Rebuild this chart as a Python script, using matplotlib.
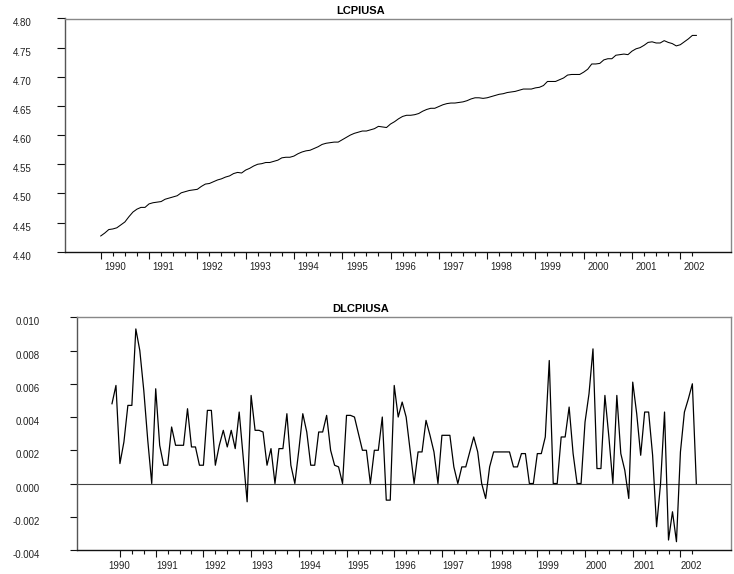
import numpy as np
import matplotlib.pyplot as plt

plt.rcParams['font.family'] = ['Liberation Sans', 'DejaVu Sans']
plt.rcParams['axes.unicode_minus'] = False

# log of US consumer prices, monthly 1990:01 - 2002:05
lcpiusa = [
    4.427, 4.432, 4.438, 4.439, 4.441, 4.446, 4.451, 4.460, 4.468, 4.473, 4.476, 4.476,
    4.482, 4.484, 4.485, 4.486, 4.490, 4.492, 4.494, 4.496, 4.501, 4.503, 4.505, 4.506,
    4.507, 4.512, 4.516, 4.517, 4.520, 4.523, 4.525, 4.528, 4.530, 4.534, 4.536, 4.535,
    4.540, 4.543, 4.547, 4.550, 4.551, 4.553, 4.553, 4.555, 4.557, 4.561, 4.562, 4.562,
    4.564, 4.568, 4.571, 4.573, 4.574, 4.577, 4.580, 4.584, 4.586, 4.587, 4.588, 4.588,
    4.592, 4.596, 4.600, 4.603, 4.605, 4.607, 4.607, 4.609, 4.611, 4.615, 4.614, 4.613,
    4.619, 4.623, 4.628, 4.632, 4.634, 4.634, 4.635, 4.637, 4.641, 4.644, 4.646, 4.646,
    4.649, 4.652, 4.654, 4.655, 4.655, 4.656, 4.657, 4.659, 4.662, 4.664, 4.664, 4.663,
    4.664, 4.666, 4.668, 4.670, 4.671, 4.673, 4.674, 4.675, 4.677, 4.679, 4.679, 4.679,
    4.681, 4.682, 4.685, 4.692, 4.692, 4.692, 4.695, 4.698, 4.703, 4.704, 4.704, 4.704,
    4.708, 4.713, 4.722, 4.722, 4.723, 4.729, 4.731, 4.731, 4.737, 4.738, 4.739, 4.738,
    4.744, 4.748, 4.750, 4.754, 4.759, 4.760, 4.758, 4.758, 4.762, 4.759, 4.757, 4.753,
    4.755, 4.760, 4.765, 4.771, 4.771,
]

# monthly change of the log, 1990:02 - 2002:05
dlcpiusa = [
    0.0048, 0.0059, 0.0012, 0.0025, 0.0047, 0.0047, 0.0093, 0.0080, 0.0056, 0.0026, 0.0000,
    0.0057, 0.0023, 0.0011, 0.0011, 0.0034, 0.0023, 0.0023, 0.0023, 0.0045, 0.0022, 0.0022, 0.0011,
    0.0011, 0.0044, 0.0044, 0.0011, 0.0023, 0.0032, 0.0022, 0.0032, 0.0021, 0.0043, 0.0016, -0.0011,
    0.0053, 0.0032, 0.0032, 0.0031, 0.0011, 0.0021, 0.0000, 0.0021, 0.0021, 0.0042, 0.0011, 0.0000,
    0.0020, 0.0042, 0.0031, 0.0011, 0.0011, 0.0031, 0.0031, 0.0041, 0.0020, 0.0011, 0.0010, 0.0000,
    0.0041, 0.0041, 0.0040, 0.0030, 0.0020, 0.0020, 0.0000, 0.0020, 0.0020, 0.0040, -0.0010, -0.0010,
    0.0059, 0.0040, 0.0049, 0.0040, 0.0020, 0.0000, 0.0019, 0.0019, 0.0038, 0.0029, 0.0019, 0.0000,
    0.0029, 0.0029, 0.0029, 0.0010, 0.0000, 0.0010, 0.0010, 0.0019, 0.0028, 0.0019, 0.0000, -0.0009,
    0.0010, 0.0019, 0.0019, 0.0019, 0.0019, 0.0019, 0.0010, 0.0010, 0.0018, 0.0018, 0.0000, 0.0000,
    0.0018, 0.0018, 0.0028, 0.0074, 0.0000, 0.0000, 0.0028, 0.0028, 0.0046, 0.0018, 0.0000, 0.0000,
    0.0037, 0.0054, 0.0081, 0.0009, 0.0009, 0.0053, 0.0028, 0.0000, 0.0053, 0.0018, 0.0008, -0.0009,
    0.0061, 0.0042, 0.0017, 0.0043, 0.0043, 0.0017, -0.0026, 0.0000, 0.0043, -0.0034, -0.0017, -0.0035,
    0.0019, 0.0043, 0.0051, 0.0060, 0.0000,
]

years = list(range(1990, 2003))
lcpi_ticks = [4.40, 4.45, 4.50, 4.55, 4.60, 4.65, 4.70, 4.75, 4.80]
lcpi_labels = ['4.40', '4.45', '4.50', '4.55', '4.60', '4.65', '4.70', '4.75', '4.80']
dlcpi_ticks = [-0.004, -0.002, 0.0, 0.002, 0.004, 0.006, 0.008, 0.010]
dlcpi_labels = ['-0.004', '-0.002', '0.000', '0.002', '0.004', '0.006', '0.008', '0.010']

t_level = 1990 + np.arange(len(lcpiusa)) / 12.0
t_diff = 1990 + np.arange(1, len(dlcpiusa) + 1) / 12.0

W, H = 734, 574
fig = plt.figure(figsize=(W / 100, H / 100), dpi=100)
ax1 = fig.add_axes([65 / W, 1 - 251.7 / H, 666 / W, 233.2 / H])
ax2 = fig.add_axes([77 / W, 1 - 550 / H, 654 / W, 232.7 / H])


def dress(ax, first_q, last_q, xlim, yticks, ylabels, ylen, ypad, label_dx):
    ax.set_xlim(*xlim)
    quarters = np.arange(first_q, last_q + 0.01, 0.25)
    major = [q for q in quarters if q == first_q or abs(q - round(q)) < 1e-6]
    minor = [q for q in quarters if q not in major]
    ax.set_xticks(major)
    ax.set_xticks(minor, minor=True)
    ax.set_xticklabels([])
    ax.tick_params(axis='x', which='major', direction='out', length=5, width=0.8, color='#111')
    ax.tick_params(axis='x', which='minor', direction='out', length=3.2, width=0.8, color='#111')
    # year labels sit just right of the January position
    for yr in years:
        ax.annotate(str(yr), xy=(yr, 0), xycoords=('data', 'axes fraction'),
                    xytext=(label_dx, -11.2), textcoords='offset points',
                    ha='left', va='center', fontsize=7, color='#222')

    ax.set_ylim(yticks[0], yticks[-1])
    ax.set_yticks(yticks)
    ax.set_yticklabels(ylabels)
    ax.tick_params(axis='y', direction='out', length=ylen, width=0.8, pad=ypad,
                   labelsize=7, labelcolor='#222', color='#111')
    plt.setp(ax.get_yticklabels(), va='top')

    ax.spines['left'].set_color('#555')
    ax.spines['bottom'].set_color('#111')
    ax.spines['top'].set_color('#888')
    ax.spines['right'].set_color('#888')
    for s in ax.spines.values():
        s.set_linewidth(1.0)


ax1.plot(t_level, lcpiusa, color='black', lw=0.75)
dress(ax1, 1990.0, 2002.25, (1989.26, 2003.05), lcpi_ticks, lcpi_labels, 5.8, 18.5, 2.6)

ax2.axhline(0, color='#444', lw=0.8)
ax2.plot(t_diff, dlcpiusa, color='black', lw=0.9)
dress(ax2, 1990.25, 2002.25, (1989.35, 2003.06), dlcpi_ticks, dlcpi_labels, 5.0, 22.0, 0.3)

fig.text(361 / W, 1 - 10.5 / H, 'LCPIUSA', ha='center', va='center',
         fontsize=8, fontweight='bold')
fig.text(361 / W, 1 - 308.8 / H, 'DLCPIUSA', ha='center', va='center',
         fontsize=8, fontweight='bold')

fig.savefig('out.png', dpi=100)
